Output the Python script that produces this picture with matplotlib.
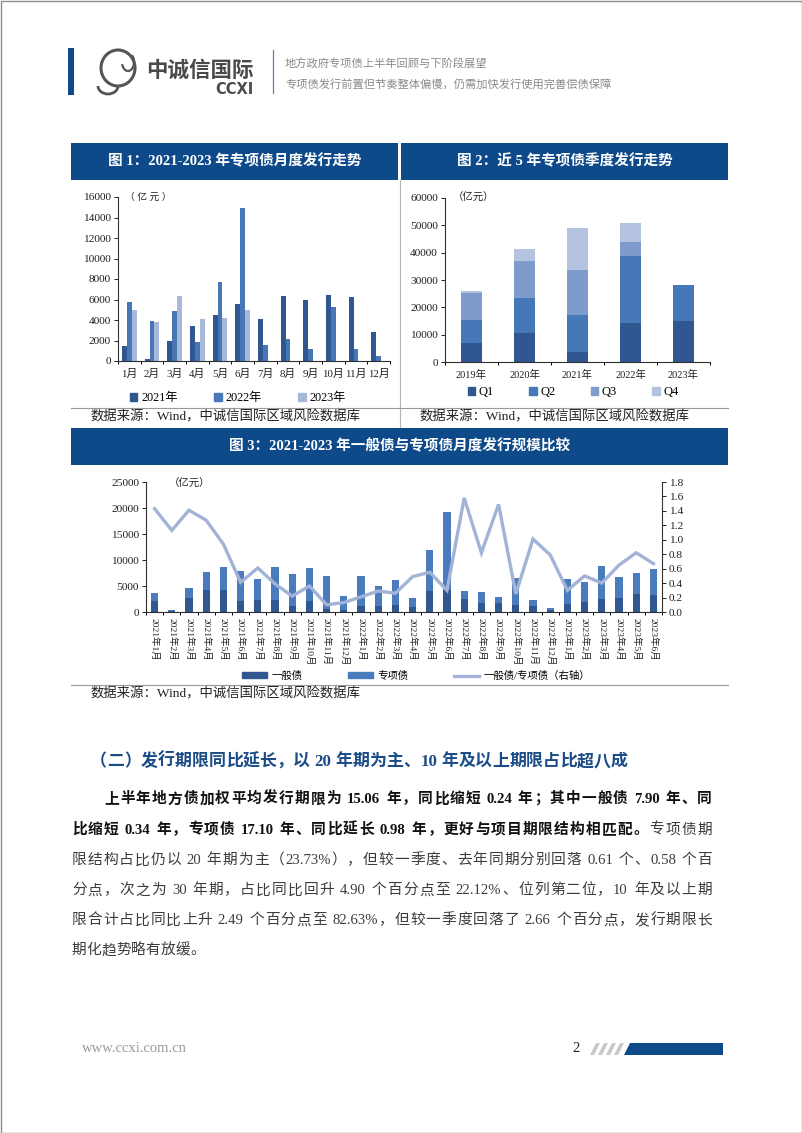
import re
import numpy as np
import matplotlib.pyplot as plt
from matplotlib.patches import Rectangle, Polygon, Patch, Ellipse, Arc
from matplotlib.lines import Line2D
from matplotlib.transforms import IdentityTransform
from matplotlib.ticker import FormatStrFormatter

plt.rcParams['font.family'] = ['Liberation Serif', 'Noto Sans CJK SC']
plt.rcParams['axes.unicode_minus'] = False

W, H = 802, 1133
NAVY = '#0E4A8A'

# ---- chart 1: monthly special bond issuance (亿元)
months = ['1月', '2月', '3月', '4月', '5月', '6月', '7月', '8月', '9月', '10月', '11月', '12月']
issue_2021 = [1500, 200, 1950, 3400, 4500, 5600, 4050, 6350, 6000, 6400, 6200, 2800]
issue_2022 = [5750, 3900, 4850, 1850, 7750, 14900, 1550, 2100, 1150, 5300, 1200, 450]
issue_2023 = [4950, 3800, 6300, 4050, 4150, 4950]

# ---- chart 2: quarterly issuance, last 5 years
years = ['2019年', '2020年', '2021年', '2022年', '2023年']
q1 = [7000, 10650, 3650, 14200, 14950]
q2 = [8300, 12850, 13400, 24600, 13100]
q3 = [9800, 13350, 16500, 5100, 0]
q4 = [700, 4400, 15400, 7000, 0]

# ---- chart 3: general vs special bonds, 2021-01 .. 2023-06
month_labels = [f'{y}年{m}月' for y in (2021, 2022) for m in range(1, 13)] + \
               [f'2023年{m}月' for m in range(1, 7)]
general = [2100, 230, 2750, 4250, 4150, 2200, 2250, 2300, 1250, 2100, 650, 350,
           1200, 1100, 1300, 900, 4100, 4300, 2450, 1700, 1700, 1300, 1200, 350,
           1450, 1900, 2500, 2650, 3400, 3300]
special = [1500, 200, 1950, 3400, 4500, 5600, 4050, 6350, 6000, 6400, 6200, 2800,
           5750, 3900, 4850, 1850, 7750, 14900, 1550, 2100, 1150, 5300, 1200, 450,
           4950, 3800, 6300, 4050, 4150, 4950]
ratio = [1.43, 1.13, 1.41, 1.27, 0.94, 0.41, 0.61, 0.39, 0.22, 0.36, 0.10, 0.13,
         0.21, 0.29, 0.26, 0.49, 0.55, 0.30, 1.58, 0.82, 1.49, 0.25, 1.01, 0.79,
         0.30, 0.50, 0.40, 0.65, 0.82, 0.67]

fig = plt.figure(figsize=(W / 100, H / 100), dpi=100)
PX = IdentityTransform()


def box(x0, y0, x1, y1, color):
    fig.add_artist(Rectangle((x0, H - y1), x1 - x0, y1 - y0, transform=PX,
                             facecolor=color, edgecolor='none'))


def hline(x0, x1, y, color='#9a9a9a', lw=0.8):
    fig.add_artist(Line2D([x0, x1], [H - y, H - y], transform=PX, color=color, lw=lw))


def vline(x, y0, y1, color='#9a9a9a', lw=0.8):
    fig.add_artist(Line2D([x, x], [H - y0, H - y1], transform=PX, color=color, lw=lw))


def text(x, y, s, **kw):
    kw.setdefault('va', 'center')
    return fig.text(x / W, 1 - y / H, s, **kw)


def add_ax(x0, y0, x1, y1):
    return fig.add_axes([x0 / W, 1 - y1 / H, (x1 - x0) / W, (y1 - y0) / H])


def style(ax, n):
    for s in ['top', 'right']:
        ax.spines[s].set_visible(False)
    for s in ['left', 'bottom']:
        ax.spines[s].set_color('#303030')
        ax.spines[s].set_linewidth(0.8)
    ax.tick_params(axis='y', direction='out', length=3, width=0.7, labelsize=8.2,
                   pad=2, colors='#202020')
    ax.tick_params(axis='x', which='major', length=0, labelsize=7.8, colors='#202020')
    ax.set_xticks(np.arange(-0.5, n), minor=True)
    ax.tick_params(axis='x', which='minor', direction='out', length=2.5, width=0.7)
    ax.set_xlim(-0.5, n - 0.5)


# ---------------- page header
fig.add_artist(Rectangle((0.5, 0.5), W - 1, H - 1, transform=PX, facecolor='none',
                         edgecolor='#8c8c8c', lw=1))
box(68, 48, 74, 95, '#0E4A8A')
fig.add_artist(Ellipse((118, H - 68), 34, 36, transform=PX, facecolor='none',
                       edgecolor='#555555', lw=2.2))
fig.add_artist(Arc((108, H - 86), 20, 16, theta1=180, theta2=360, transform=PX,
                   edgecolor='#555555', lw=2.0))
fig.add_artist(Arc((128, H - 62), 12, 18, theta1=200, theta2=60, transform=PX,
                   edgecolor='#555555', lw=1.6))
text(146, 70, '中诚信国际', fontsize=15.5, fontweight='bold', color='#4a4a4a',
     family=['Noto Sans CJK SC'])
text(254, 89, 'CCXI', fontsize=10.5, fontweight='bold', color='#4a4a4a', ha='right',
     family=['DejaVu Sans'])
vline(273, 50, 93, color='#5a7fb0', lw=0.9)
text(285, 64, '地方政府专项债上半年回顾与下阶段展望', fontsize=8.1, color='#8a8a8a',
     family=['Noto Sans CJK SC'])
text(285, 84, '专项债发行前置但节奏整体偏慢，仍需加快发行使用完善偿债保障', fontsize=8.1,
     color='#8a8a8a', family=['Noto Sans CJK SC'])

# ---------------- title bars
box(71, 143, 398, 180, NAVY)
box(401, 143, 728, 180, NAVY)
box(71, 428, 728, 465, NAVY)
text(234.5, 161.5, '图 1：2021-2023 年专项债月度发行走势', ha='center', color='white',
     fontsize=10.5, fontweight='bold')
text(564.5, 161.5, '图 2：近 5 年专项债季度发行走势', ha='center', color='white',
     fontsize=10.5, fontweight='bold')
text(399.5, 446.5, '图 3：2021-2023 年一般债与专项债月度发行规模比较', ha='center',
     color='white', fontsize=10.5, fontweight='bold')

vline(400, 180, 427, color='#b5b5b5')
hline(71, 728, 408)
hline(71, 728, 685)
text(91, 416.5, '数据来源：Wind，中诚信国际区域风险数据库', fontsize=9.6, color='#222222')
text(420, 416.5, '数据来源：Wind，中诚信国际区域风险数据库', fontsize=9.6, color='#222222')
text(91, 693.5, '数据来源：Wind，中诚信国际区域风险数据库', fontsize=9.6, color='#222222')

# ---------------- chart 1
c21, c22, c23 = '#30578F', '#4877B7', '#A8B8DA'
ax1 = add_ax(118, 197, 390, 361)
x = np.arange(12)
w = 0.22
ax1.bar(x - w, issue_2021, w, color=c21)
ax1.bar(x, issue_2022, w, color=c22)
ax1.bar(np.arange(len(issue_2023)) + w, issue_2023, w, color=c23)
style(ax1, 12)
ax1.set_ylim(0, 16000)
ax1.set_yticks(np.arange(0, 16001, 2000))
ax1.set_xticks(x)
ax1.set_xticklabels(months)
ax1.tick_params(axis='x', pad=6)
ax1.text(0.025, 1.0, '（ 亿 元 ）', transform=ax1.transAxes, fontsize=7, va='center',
         color='#202020')
fig.legend([Patch(color=c) for c in (c21, c22, c23)], ['2021年', '2022年', '2023年'],
           loc='center', bbox_to_anchor=(238 / W, 1 - 398 / H), ncol=3, frameon=False,
           fontsize=8.8, handlelength=0.6, handleheight=0.6, handletextpad=0.3,
           columnspacing=3.0)

# ---------------- chart 2
cq = ['#30578F', '#4677B6', '#7D9BCB', '#B4C3E0']
ax2 = add_ax(445, 198, 710, 362)
xy = np.arange(len(years))
bottom = np.zeros(len(years))
for vals, c in zip([q1, q2, q3, q4], cq):
    ax2.bar(xy, vals, 0.4, bottom=bottom, color=c)
    bottom += np.array(vals)
style(ax2, 5)
ax2.set_ylim(0, 60000)
ax2.set_yticks(np.arange(0, 60001, 10000))
ax2.set_xticks(xy)
ax2.set_xticklabels(years)
ax2.tick_params(axis='x', labelsize=7.5, pad=6)
ax2.text(0.03, 1.0, '（亿元）', transform=ax2.transAxes, fontsize=7.5, va='center',
         color='#202020')
fig.legend([Patch(color=c) for c in cq], ['Q1', 'Q2', 'Q3', 'Q4'], loc='center',
           bbox_to_anchor=(573 / W, 1 - 392 / H), ncol=4, frameon=False, fontsize=9,
           handlelength=0.6, handleheight=0.6, handletextpad=0.3, columnspacing=2.8)

# ---------------- chart 3
cg, cs, cr = '#30578F', '#4A7CBD', '#A3B3D7'
ax3 = add_ax(146, 482, 662, 612)
xm = np.arange(len(month_labels))
ax3.bar(xm, general, 0.42, color=cg)
ax3.bar(xm, special, 0.42, bottom=general, color=cs)
style(ax3, len(month_labels))
ax3.set_ylim(0, 25000)
ax3.set_yticks(np.arange(0, 25001, 5000))
ax3.set_xticks(xm)
ax3.set_xticklabels(month_labels, rotation=270, fontsize=6.8, va='top', ha='center')
ax3.tick_params(axis='x', pad=4)
ax3.text(0.045, 0.985, '（亿元）', transform=ax3.transAxes, fontsize=7.5, va='center',
         color='#202020')
ax3r = ax3.twinx()
ax3r.plot(xm, ratio, color=cr, lw=2.4, solid_joinstyle='miter')
for s in ['top', 'left', 'bottom']:
    ax3r.spines[s].set_visible(False)
ax3r.spines['right'].set_color('#303030')
ax3r.spines['right'].set_linewidth(0.8)
ax3r.set_ylim(0, 1.8)
ax3r.set_yticks(np.arange(0, 1.81, 0.2))
ax3r.yaxis.set_major_formatter(FormatStrFormatter('%.1f'))
ax3r.tick_params(axis='y', direction='out', length=3, width=0.7, labelsize=8.2, pad=2,
                 colors='#202020')
fig.legend([Patch(color=cg), Patch(color=cs), Line2D([], [], color=cr, lw=2.4)],
           ['一般债', '专项债', '一般债/专项债（右轴）'], loc='center',
           bbox_to_anchor=(416 / W, 1 - 676 / H), ncol=3, frameon=False, fontsize=7.5,
           handlelength=2.4, handleheight=0.5, handletextpad=0.4, columnspacing=4.4)

# ---------------- body text (justified lines)
renderer = fig.canvas.get_renderer()


def put_line(parts, x0, y, x1=None, size=10.6):
    em = size * 100 / 72
    items = []
    for s, bold, color in parts:
        for tok in re.findall(r'[A-Za-z0-9.%]+| |.', s):
            if tok == ' ':
                items.append((None, 0.25 * em))
                continue
            t = fig.text(0, 1 - (y + 0.36 * em) / H, tok, fontsize=size, color=color,
                         fontweight='bold' if bold else 'normal', va='baseline', ha='left')
            wd = t.get_window_extent(renderer).width
            if not re.match(r'[A-Za-z0-9.%]', tok):
                wd = max(wd, em)
            items.append((t, wd))
    total = sum(wd for _, wd in items)
    extra = 0 if x1 is None else (x1 - x0 - total) / (len(items) - 1)
    xp = x0
    for t, wd in items:
        if t is not None:
            t.set_x(xp / W)
        xp += wd + extra


BLUE = '#1B4C88'
INK = '#111111'
GREY = '#3c3c3c'
put_line([('（二）发行期限同比延长，以 20 年期为主、10 年及以上期限占比超八成', True, BLUE)],
         90, 760, size=12.2)
put_line([('上半年地方债加权平均发行期限为 15.06 年，同比缩短 0.24 年；其中一般债 7.90 年、同',
           True, INK)], 104, 798, 712)
put_line([('比缩短 0.34 年，专项债 17.10 年、同比延长 0.98 年，更好与项目期限结构相匹配。', True, INK),
          ('专项债期', False, GREY)], 72, 828.5, 712)
put_line([('限结构占比仍以 20 年期为主（23.73%），但较一季度、去年同期分别回落 0.61 个、0.58 个百',
           False, GREY)], 72, 859, 712)
put_line([('分点，次之为 30 年期，占比同比回升 4.90 个百分点至 22.12%、位列第二位，10 年及以上期',
           False, GREY)], 72, 889, 712)
put_line([('限合计占比同比上升 2.49 个百分点至 82.63%，但较一季度回落了 2.66 个百分点，发行期限长',
           False, GREY)], 72, 919, 712)
put_line([('期化趋势略有放缓。', False, GREY)], 72, 949)

# ---------------- footer
text(82, 1049, 'www.ccxi.com.cn', fontsize=10.5, color='#9a9a9a')
text(572, 1049, '2', fontsize=10.5, color='#222222')
for k in range(4):
    x0 = 596 + 8 * k
    fig.add_artist(Polygon([(x0, H - 1043), (x0 + 4, H - 1043), (x0 - 2, H - 1055),
                            (x0 - 6, H - 1055)], closed=True, transform=PX,
                           facecolor='#c8c8c8', edgecolor='none'))
fig.add_artist(Polygon([(630, H - 1043), (723, H - 1043), (723, H - 1055), (624, H - 1055)],
                       closed=True, transform=PX, facecolor='#0E4A8A', edgecolor='none'))

fig.savefig('out.png', dpi=100)
